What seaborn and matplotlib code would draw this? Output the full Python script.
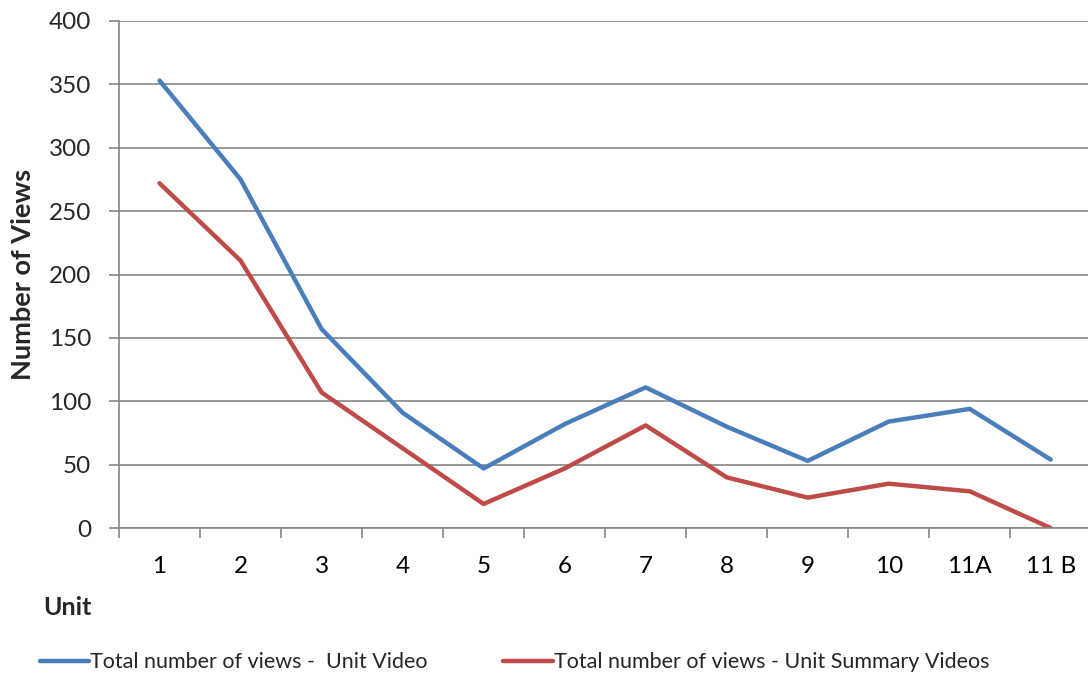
import matplotlib
matplotlib.use("Agg")
import matplotlib.pyplot as plt
import numpy as np
import pandas as pd
import seaborn as sns
from matplotlib.ticker import FixedLocator, FixedFormatter

# unit labels and view counts
units = ["1", "2", "3", "4", "5", "6", "7", "8", "9", "10", "11A", "11 B"]
unit_video_views = [353, 275, 157, 91, 47, 82, 111, 80, 53, 84, 94, 54]
summary_video_views = [272, 211, 107, 63, 19, 47, 81, 40, 24, 35, 29, 0]

label_unit = "Total number of views -  Unit Video"
label_summary = "Total number of views - Unit Summary Videos"

df = pd.DataFrame({
    "pos": list(range(len(units))) * 2,
    "views": unit_video_views + summary_video_views,
    "series": [label_unit] * len(units) + [label_summary] * len(units),
})

sns.set_style("white")
plt.rcParams["font.family"] = ["Lato", "DejaVu Sans"]

fig = plt.figure(figsize=(10.88, 6.77), dpi=100)
ax = fig.add_axes([0.1094, 0.220, 0.8936, 0.749])

sns.lineplot(data=df, x="pos", y="views", hue="series",
             palette={label_unit: "#4A7EBB", label_summary: "#BE4B48"},
             linewidth=3.2, ax=ax, legend=False)

gray = "#868686"
ax.set_ylim(0, 400)
ax.set_xlim(-0.5, len(units) - 0.5)
ax.set_yticks(np.arange(0, 401, 50))
ax.yaxis.grid(True, color=gray, linewidth=1.2)
ax.set_axisbelow(True)

# category labels in the middle, tick marks on the boundaries
ax.xaxis.set_major_locator(FixedLocator(np.arange(-0.5, len(units), 1.0)))
ax.xaxis.set_major_formatter(FixedFormatter([""] * (len(units) + 1)))
ax.xaxis.set_minor_locator(FixedLocator(np.arange(len(units))))
ax.xaxis.set_minor_formatter(FixedFormatter(units))
ax.tick_params(axis="x", which="major", direction="out", length=7, width=1.2,
               color=gray, bottom=True)
ax.tick_params(axis="x", which="minor", length=0, labelsize=17.5, pad=20,
               labelcolor="black")
ax.tick_params(axis="y", direction="out", length=7, width=1.2, color=gray,
               labelsize=17.5, pad=13, left=True)

for side in ["top", "right"]:
    ax.spines[side].set_visible(False)
for side in ["left", "bottom"]:
    ax.spines[side].set_color(gray)
    ax.spines[side].set_linewidth(1.2)

ax.set_xlabel("")
ax.set_ylabel("")
fig.text(0.021, 0.594, "Number of Views", fontsize=19.5, fontweight="bold",
         rotation=90, ha="center", va="center")
fig.text(0.040, 0.102, "Unit", fontsize=18, fontweight="bold", ha="left", va="center")

handles = [plt.Line2D([], [], color="#4A7EBB", linewidth=3.2),
           plt.Line2D([], [], color="#BE4B48", linewidth=3.2)]
fig.legend(handles, [label_unit, label_summary], loc="center",
           bbox_to_anchor=(0.473, 0.022), ncol=2, frameon=False, fontsize=15.5,
           handlelength=2.3, handletextpad=0.05, columnspacing=3.5)

plt.savefig("out.png", dpi=100)
plt.close()
